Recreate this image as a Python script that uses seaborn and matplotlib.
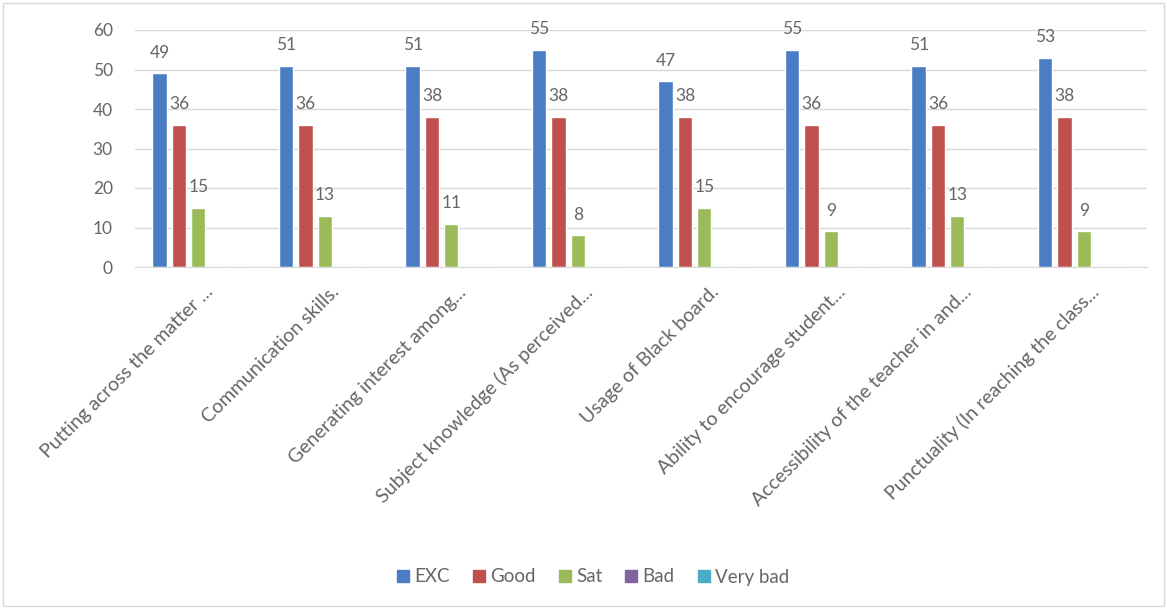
import pandas as pd
import numpy as np
import matplotlib.pyplot as plt
import matplotlib.transforms as mtransforms
import seaborn as sns
from matplotlib.lines import Line2D
from matplotlib.patches import Rectangle

# --- datos del gráfico ---
criterios = [
    "Putting across the matter ...",
    "Communication skills.",
    "Generating interest among...",
    "Subject knowledge (As perceived...",
    "Usage of Black board.",
    "Ability to encourage student...",
    "Accessibility of the teacher in and...",
    "Punctuality (In reaching the class...",
]
series = ["EXC", "Good", "Sat", "Bad", "Very bad"]
exc = [49, 51, 51, 55, 47, 55, 51, 53]
good = [36, 36, 38, 38, 38, 36, 36, 38]
sat = [15, 13, 11, 8, 15, 9, 13, 9]
bad = [0, 0, 0, 0, 0, 0, 0, 0]
very_bad = [0, 0, 0, 0, 0, 0, 0, 0]

colores = ["#4A7DC4", "#C0504D", "#9BBB59", "#8064A2", "#4BACC6"]

valores = [exc, good, sat, bad, very_bad]
df = pd.DataFrame({
    "Criterio": np.tile(criterios, len(series)),
    "Serie": np.repeat(series, len(criterios)),
    "Valor": np.concatenate(valores),
})

sns.set_style("white")
plt.rcParams['font.family'] = ['Lato', 'DejaVu Sans']
gris = "#666666"

fig = plt.figure(figsize=(11.67, 6.11), dpi=100)
ax = fig.add_axes([135 / 1167, 1 - 267 / 611, 1012 / 1167, 237 / 611])

sns.barplot(data=df, x="Criterio", y="Valor", hue="Serie", order=criterios,
            hue_order=series, palette=colores, width=0.763, gap=0.25,
            saturation=1, ax=ax, legend=False)

for cont, vals in zip(ax.containers, valores):
    etiquetas = [str(v) if v else "" for v in vals]
    ax.bar_label(cont, labels=etiquetas, padding=9, color=gris, fontsize=12.5)

ax.set_xlim(-0.5, len(criterios) - 0.5)
ax.set_ylim(0, 60)
ax.set_yticks(range(0, 61, 10))
ax.yaxis.grid(True, color="#d9d9d9", linewidth=1)
ax.set_axisbelow(True)
for lado in ["top", "right", "left"]:
    ax.spines[lado].set_visible(False)
ax.spines["bottom"].set_color("#d9d9d9")
ax.set_xlabel("")
ax.set_ylabel("")
ax.tick_params(axis="y", length=0, pad=16, labelsize=12.5, labelcolor=gris)
ax.tick_params(axis="x", length=0, pad=16, labelsize=14, labelcolor=gris)
desplazamiento = mtransforms.ScaledTranslation(12 / 100, 0, fig.dpi_scale_trans)
for etiqueta in ax.get_xticklabels():
    etiqueta.set_rotation(45)
    etiqueta.set_ha("right")
    etiqueta.set_va("center")
    etiqueta.set_rotation_mode("anchor")
    etiqueta.set_transform(etiqueta.get_transform() + desplazamiento)

manejadores = [Line2D([], [], marker="s", linestyle="", markersize=8.5,
                      markerfacecolor=c, markeredgecolor=c) for c in colores]
fig.legend(manejadores, series, loc="center", ncol=5,
           bbox_to_anchor=(592 / 1167, 1 - 577 / 611), frameon=False,
           fontsize=13.5, labelcolor=gris, handletextpad=0.15,
           columnspacing=1.1, handlelength=0.9)

# borde del área del gráfico
fig.patches.append(Rectangle((3 / 1167, 5 / 611), 1161 / 1167, 603 / 611,
                             transform=fig.transFigure, fill=False,
                             edgecolor="#d9d9d9", linewidth=1))

fig.savefig("out.png", dpi=100)
